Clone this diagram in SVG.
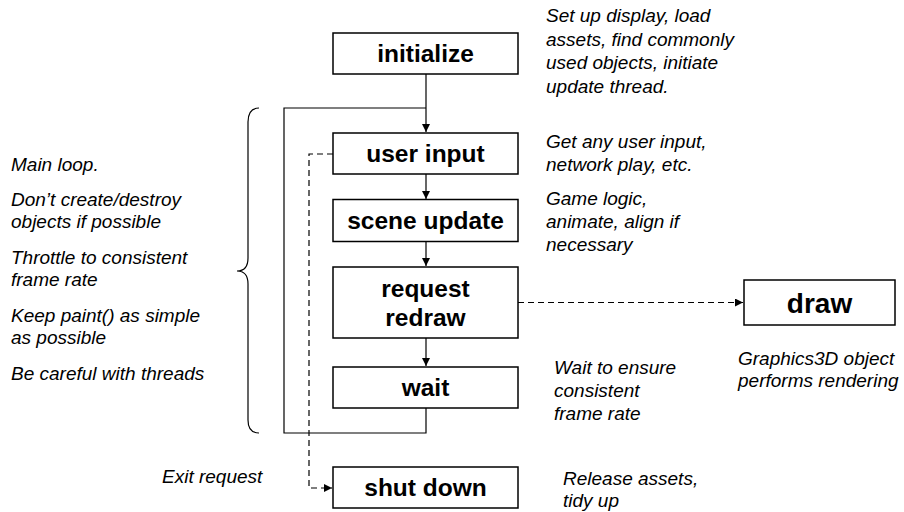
<svg xmlns="http://www.w3.org/2000/svg" width="904" height="512" viewBox="0 0 904 512">
<style>
.box{fill:#fff;stroke:#000;stroke-width:1.5}
.lbl{font-family:"Liberation Sans",Arial,sans-serif;font-weight:bold;font-size:24.5px;text-anchor:middle;fill:#000}
.note{font-family:"Liberation Sans",Arial,sans-serif;font-style:italic;font-size:19px;fill:#000}
.ln{fill:none;stroke:#000;stroke-width:1.2}
.dash{fill:none;stroke:#000;stroke-width:1.2;stroke-dasharray:6,4}
</style>
<defs>
<marker id="ah" viewBox="0 0 10 10" refX="10" refY="5" markerWidth="8" markerHeight="8" markerUnits="userSpaceOnUse" orient="auto">
<path d="M0,0 L10,5 L0,10 z" fill="#000"/>
</marker>
</defs>
<rect width="904" height="512" fill="#fff"/>
<g id="connectors">
<path class="ln" d="M426,74 L426,132" marker-end="url(#ah)"/>
<path class="ln" d="M426,408 L426,433 L284,433 L284,108 L426,108"/>
<path class="ln" d="M426,174 L426,199" marker-end="url(#ah)"/>
<path class="ln" d="M426,242 L426,266" marker-end="url(#ah)"/>
<path class="ln" d="M426,338 L426,366" marker-end="url(#ah)"/>
<path class="dash" d="M333,154 L309,154 L309,488 L332,488" marker-end="url(#ah)"/>
<path class="dash" d="M518,302.5 L743,302.5" marker-end="url(#ah)"/>
</g>
<g id="initialize"><rect class="box" x="333" y="33" width="185" height="41"/><text class="lbl" x="425.5" y="62">initialize</text></g>
<g id="user-input"><rect class="box" x="333" y="133" width="185" height="41"/><text class="lbl" x="425.5" y="162">user input</text></g>
<g id="scene-update"><rect class="box" x="333" y="199.5" width="185" height="42"/><text class="lbl" x="425.5" y="229">scene update</text></g>
<g id="request-redraw"><rect class="box" x="333" y="267" width="185" height="71"/><text class="lbl" x="425.5" y="297">request</text><text class="lbl" x="425.5" y="326">redraw</text></g>
<g id="wait"><rect class="box" x="333" y="367" width="185" height="41"/><text class="lbl" x="425.5" y="396">wait</text></g>
<g id="shut-down"><rect class="box" x="333" y="467" width="185" height="41"/><text class="lbl" x="425.5" y="496">shut down</text></g>
<g id="draw"><rect class="box" x="744" y="280" width="151" height="45"/><text class="lbl" x="819.5" y="312.5" style="font-size:28px">draw</text></g>
<g id="brace"><path class="ln" d="M259,108 Q248,108 248,122 L248,258 Q248,271 237,271 Q248,271 248,284 L248,420 Q248,433 259,433"/></g>
<g id="notes-left">
<text class="note" x="11" y="171">Main loop.</text>
<text class="note" x="11" y="206">Don’t create/destroy</text>
<text class="note" x="11" y="228">objects if possible</text>
<text class="note" x="11" y="264">Throttle to consistent</text>
<text class="note" x="11" y="286">frame rate</text>
<text class="note" x="11" y="322">Keep paint() as simple</text>
<text class="note" x="11" y="344">as possible</text>
<text class="note" x="11" y="380">Be careful with threads</text>
<text class="note" x="162" y="483">Exit request</text>
</g>
<g id="notes-right">
<text class="note" x="546" y="22">Set up display, load</text>
<text class="note" x="546" y="46">assets, find commonly</text>
<text class="note" x="546" y="69">used objects, initiate</text>
<text class="note" x="546" y="93">update thread.</text>
<text class="note" x="546" y="148">Get any user input,</text>
<text class="note" x="546" y="171">network play, etc.</text>
<text class="note" x="546" y="205">Game logic,</text>
<text class="note" x="546" y="228">animate, align if</text>
<text class="note" x="546" y="251">necessary</text>
<text class="note" x="554" y="374">Wait to ensure</text>
<text class="note" x="554" y="397">consistent</text>
<text class="note" x="554" y="420">frame rate</text>
<text class="note" x="738" y="365">Graphics3D object</text>
<text class="note" x="738" y="387">performs rendering</text>
<text class="note" x="563" y="485">Release assets,</text>
<text class="note" x="563" y="507">tidy up</text>
</g>
</svg>
